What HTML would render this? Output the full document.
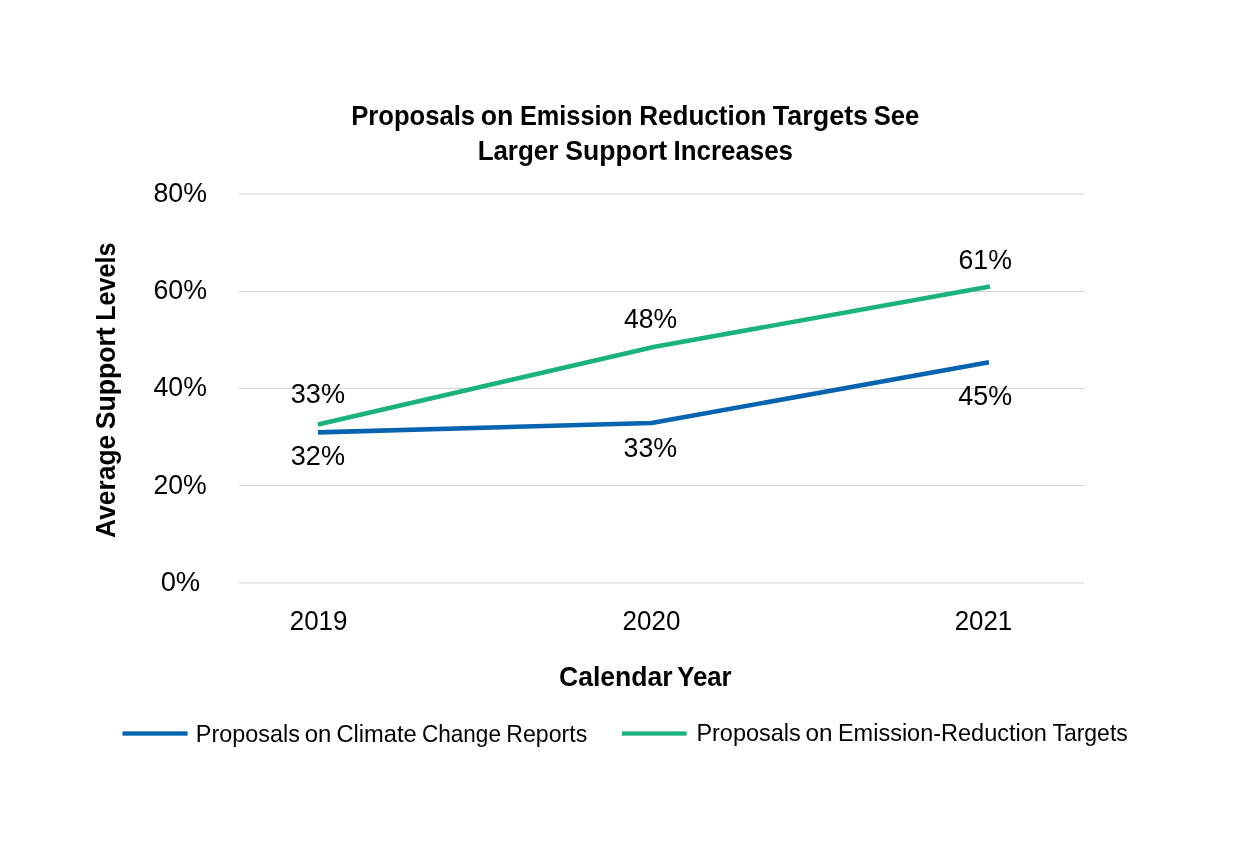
<!DOCTYPE html>
<html><head><meta charset="utf-8">
<style>
html,body{margin:0;padding:0;background:#fff;}
body{width:1250px;height:860px;overflow:hidden;}
svg{display:block;will-change:transform;}
text{font-family:"Liberation Sans", sans-serif;fill:#000;}
.b{font-weight:bold;}
</style></head>
<body>
<svg width="1250" height="860" viewBox="0 0 1250 860">
<rect width="1250" height="860" fill="#fff"/>

<g fill="#d5d5d5">
<rect x="239" y="193.500" width="845" height="1"/>
<rect x="239" y="291.000" width="845" height="1"/>
<rect x="239" y="388.000" width="845" height="1"/>
<rect x="239" y="485.000" width="845" height="1"/>
<rect x="239" y="582.500" width="845" height="1"/>
</g>
<g fill="none" stroke-width="4.6" stroke-linejoin="round" stroke-linecap="butt">
<polyline stroke="#1ab37b" points="318,424.5 653.5,347 990,286.5"/>
<polyline stroke="#0563b0" points="318,432.4 651.5,423.0 989,362.3"/>
</g>
<rect x="122.5" y="731.35" width="65.1" height="4.3" fill="#0563b0"/>
<rect x="621.9" y="731.35" width="64.7" height="4.3" fill="#1ab37b"/>
<text x="180.16" y="201.60" font-size="26.80" text-anchor="middle" textLength="53.56" lengthAdjust="spacingAndGlyphs">80%</text>
<text x="180.21" y="298.80" font-size="26.80" text-anchor="middle" textLength="53.66" lengthAdjust="spacingAndGlyphs">60%</text>
<text x="180.22" y="395.80" font-size="26.80" text-anchor="middle" textLength="53.29" lengthAdjust="spacingAndGlyphs">40%</text>
<text x="180.14" y="493.80" font-size="26.80" text-anchor="middle" textLength="53.34" lengthAdjust="spacingAndGlyphs">20%</text>
<text x="180.40" y="591.00" font-size="26.80" text-anchor="middle" textLength="39.55" lengthAdjust="spacingAndGlyphs">0%</text>
<text x="318.58" y="629.80" font-size="26.80" text-anchor="middle" textLength="57.75" lengthAdjust="spacingAndGlyphs">2019</text>
<text x="651.52" y="629.80" font-size="26.80" text-anchor="middle" textLength="57.82" lengthAdjust="spacingAndGlyphs">2020</text>
<text x="983.46" y="629.80" font-size="26.80" text-anchor="middle" textLength="57.64" lengthAdjust="spacingAndGlyphs">2021</text>
<text x="317.91" y="402.70" font-size="26.80" text-anchor="middle" textLength="54.23" lengthAdjust="spacingAndGlyphs">33%</text>
<text x="317.91" y="464.70" font-size="26.80" text-anchor="middle" textLength="54.23" lengthAdjust="spacingAndGlyphs">32%</text>
<text x="650.50" y="327.70" font-size="26.80" text-anchor="middle" textLength="53.18" lengthAdjust="spacingAndGlyphs">48%</text>
<text x="650.29" y="456.80" font-size="26.80" text-anchor="middle" textLength="53.60" lengthAdjust="spacingAndGlyphs">33%</text>
<text x="985.20" y="269.00" font-size="26.80" text-anchor="middle" textLength="53.43" lengthAdjust="spacingAndGlyphs">61%</text>
<text x="985.16" y="405.00" font-size="26.80" text-anchor="middle" textLength="53.79" lengthAdjust="spacingAndGlyphs">45%</text>
<text class="b" x="413.15" y="124.90" font-size="27.50" text-anchor="middle" textLength="123.93" lengthAdjust="spacingAndGlyphs">Proposals</text>
<text class="b" x="497.06" y="124.90" font-size="27.50" text-anchor="middle" textLength="32.70" lengthAdjust="spacingAndGlyphs">on</text>
<text class="b" x="576.16" y="124.90" font-size="27.50" text-anchor="middle" textLength="112.51" lengthAdjust="spacingAndGlyphs">Emission</text>
<text class="b" x="702.86" y="124.90" font-size="27.50" text-anchor="middle" textLength="127.22" lengthAdjust="spacingAndGlyphs">Reduction</text>
<text class="b" x="820.47" y="124.90" font-size="27.50" text-anchor="middle" textLength="95.23" lengthAdjust="spacingAndGlyphs">Targets</text>
<text class="b" x="896.51" y="124.90" font-size="27.50" text-anchor="middle" textLength="45.44" lengthAdjust="spacingAndGlyphs">See</text>
<text class="b" x="517.96" y="159.80" font-size="27.50" text-anchor="middle" textLength="80.67" lengthAdjust="spacingAndGlyphs">Larger</text>
<text class="b" x="616.19" y="159.80" font-size="27.50" text-anchor="middle" textLength="102.05" lengthAdjust="spacingAndGlyphs">Support</text>
<text class="b" x="733.24" y="159.80" font-size="27.50" text-anchor="middle" textLength="119.38" lengthAdjust="spacingAndGlyphs">Increases</text>
<text class="b" x="615.82" y="685.50" font-size="27.30" text-anchor="middle" textLength="113.59" lengthAdjust="spacingAndGlyphs">Calendar</text>
<text class="b" x="704.44" y="685.50" font-size="27.30" text-anchor="middle" textLength="54.38" lengthAdjust="spacingAndGlyphs">Year</text>
<text x="247.83" y="742.10" font-size="24.20" text-anchor="middle" textLength="104.03" lengthAdjust="spacingAndGlyphs">Proposals</text>
<text x="317.97" y="742.10" font-size="24.20" text-anchor="middle" textLength="26.64" lengthAdjust="spacingAndGlyphs">on</text>
<text x="376.55" y="742.10" font-size="24.20" text-anchor="middle" textLength="80.33" lengthAdjust="spacingAndGlyphs">Climate</text>
<text x="461.46" y="742.10" font-size="24.20" text-anchor="middle" textLength="78.92" lengthAdjust="spacingAndGlyphs">Change</text>
<text x="546.77" y="742.10" font-size="24.20" text-anchor="middle" textLength="80.86" lengthAdjust="spacingAndGlyphs">Reports</text>
<text x="748.57" y="741.10" font-size="24.20" text-anchor="middle" textLength="104.32" lengthAdjust="spacingAndGlyphs">Proposals</text>
<text x="818.90" y="741.10" font-size="24.20" text-anchor="middle" textLength="26.97" lengthAdjust="spacingAndGlyphs">on</text>
<text x="942.40" y="741.10" font-size="24.20" text-anchor="middle" textLength="208.92" lengthAdjust="spacingAndGlyphs">Emission-Reduction</text>
<text x="1090.11" y="741.10" font-size="24.20" text-anchor="middle" textLength="75.34" lengthAdjust="spacingAndGlyphs">Targets</text>
<text class="b" font-size="27.50" text-anchor="middle" transform="translate(115.00,486.34) rotate(-90)" textLength="103.18" lengthAdjust="spacingAndGlyphs">Average</text>
<text class="b" font-size="27.50" text-anchor="middle" transform="translate(115.00,378.27) rotate(-90)" textLength="101.96" lengthAdjust="spacingAndGlyphs">Support</text>
<text class="b" font-size="27.50" text-anchor="middle" transform="translate(115.00,281.61) rotate(-90)" textLength="78.27" lengthAdjust="spacingAndGlyphs">Levels</text>
</svg>
</body></html>
